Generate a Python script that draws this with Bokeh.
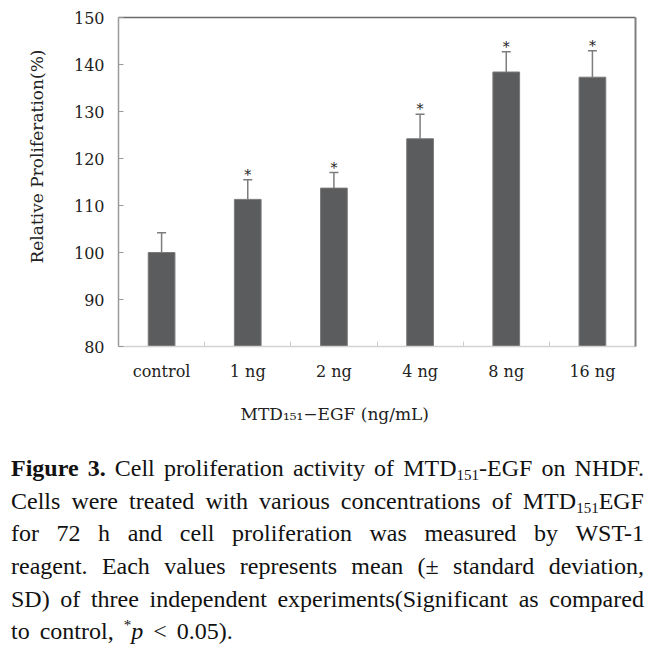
from bokeh.plotting import figure
from bokeh.models import (ColumnDataSource, Range1d, LinearAxis, FixedTicker, Whisker,
                          TeeHead, Title, Div)
from bokeh.layouts import column
from bokeh.core.properties import value
from bokeh.embed import file_html
from bokeh.resources import INLINE

# ---- data ----
categories = ["control", "1 ng", "2 ng", "4 ng", "8 ng", "16 ng"]
means = [100.0, 111.3, 113.7, 124.2, 138.4, 137.3]
sds = [4.2, 4.2, 3.3, 5.2, 4.3, 5.6]
significant = ["", "*", "*", "*", "*", "*"]
y_ticks = [80, 90, 100, 110, 120, 130, 140, 150]
y_label = "Relative Proliferation(%)"
x_label = "MTD\u2081\u2085\u2081\u2212EGF (ng/mL)"
caption_lines = [
    "<b>Figure</b> <b>3.</b> Cell proliferation activity of MTD<sub>151</sub>-EGF on NHDF.",
    "Cells were treated with various concentrations of MTD<sub>151</sub>EGF",
    "for 72 h and cell proliferation was measured by WST-1",
    "reagent. Each values represents mean (\u00b1 standard deviation,",
    "SD) of three independent experiments(Significant as compared",
    "to control, <sup>*</sup><i>p</i> &lt; 0.05).",
]

FONT = "DejaVu Serif"
CAP_FONT = "'Liberation Serif', 'Times New Roman', Times, serif"
idx = list(range(len(categories)))
upper = [m + s for m, s in zip(means, sds)]
src = ColumnDataSource(dict(x=idx, mean=means, upper=upper, lower=means, star=significant))

p = figure(width=651, height=447, output_backend="svg", toolbar_location=None,
           x_range=Range1d(-0.5, len(categories) - 0.5), y_range=Range1d(80, 150),
           x_axis_type=None, y_axis_type=None,
           min_border_left=118, min_border_right=16, min_border_top=17, min_border_bottom=101)
p.outline_line_color = None
p.xgrid.visible = False
p.ygrid.visible = False

# bars
p.vbar(x="x", top="mean", bottom=0, width=0.31, source=src,
       fill_color="#5b5c5e", line_color="#7a7a7a", line_width=1)

# error bars (upper only)
w = Whisker(base="x", upper="upper", lower="lower", dimension="height", source=src,
            line_color="#7d7d7d", line_width=1.5,
            upper_head=TeeHead(size=9, line_color="#7d7d7d", line_width=1.5),
            lower_head=None)
p.add_layout(w)

# significance stars
p.text(x="x", y="upper", text="star", source=src, text_align="center",
       text_baseline="bottom", y_offset=3, text_font=value(FONT),
       text_font_size="14px", text_color="#222222")

# bottom axis: category labels, boundary ticks
xaxis = LinearAxis(ticker=FixedTicker(ticks=idx, minor_ticks=[i + 0.5 for i in idx[:-1]]),
                   major_label_overrides={i: c for i, c in zip(idx, categories)})
xaxis.axis_line_color = "#d2d2d2"
xaxis.axis_line_width = 1.5
xaxis.major_tick_line_color = None
xaxis.minor_tick_in = 5
xaxis.minor_tick_out = 0
xaxis.minor_tick_line_color = "#cccccc"
xaxis.major_label_text_font = FONT
xaxis.major_label_text_font_size = "16px"
xaxis.major_label_text_color = "#222222"
xaxis.major_label_standoff = 9
p.add_layout(xaxis, "below")

# left axis
yaxis = LinearAxis(ticker=FixedTicker(ticks=y_ticks))
yaxis.axis_line_color = "#9a9a9a"
yaxis.axis_line_width = 1.5
yaxis.major_tick_in = 5
yaxis.major_tick_out = 0
yaxis.major_tick_line_color = "#9a9a9a"
yaxis.minor_tick_line_color = None
yaxis.major_label_text_font = FONT
yaxis.major_label_text_font_size = "16px"
yaxis.major_label_text_color = "#222222"
yaxis.major_label_standoff = 14
p.add_layout(yaxis, "left")

# top and right frame lines
top = LinearAxis(ticker=FixedTicker(ticks=[]), major_label_text_font_size="0px",
                 axis_line_color="#6a6a6a", axis_line_width=1.5,
                 major_tick_line_color=None, minor_tick_line_color=None)
p.add_layout(top, "above")
right = LinearAxis(ticker=FixedTicker(ticks=[]), major_label_text_font_size="0px",
                   axis_line_color="#808080", axis_line_width=2,
                   major_tick_line_color=None, minor_tick_line_color=None)
p.add_layout(right, "right")

# axis titles
p.add_layout(Title(text=x_label, align="left", offset=122, standoff=37,
                   text_font=FONT, text_font_size="17px", text_font_style="normal",
                   text_color="#222222"), "below")
p.add_layout(Title(text=y_label, align="left", offset=83, standoff=48,
                   text_font=FONT, text_font_size="17px", text_font_style="normal",
                   text_color="#222222"), "left")

# caption
def line_html(s, justify=True):
    words = "".join(f"<span>{wd}</span>" for wd in s.split(" "))
    if justify:
        return ("<div style='display:flex;justify-content:space-between;height:32.7px;"
                "line-height:32.7px;white-space:nowrap;'>" + words + "</div>")
    return ("<div style='display:flex;column-gap:10px;height:32.7px;"
            "line-height:32.7px;white-space:nowrap;'>" + words + "</div>")

body = "".join(line_html(s, i < len(caption_lines) - 1) for i, s in enumerate(caption_lines))
html = (f"<div style=\"font-family:{CAP_FONT};font-size:24px;color:#111;"
        "width:633px;\">"
        "<style>sub,sup{font-size:15px;line-height:0;} sub{vertical-align:-4px;}"
        " sup{vertical-align:9px;}</style>" + body + "</div>")
cap = Div(text=html, width=651, height=220,
          styles={"font-family": CAP_FONT, "padding-left": "6px", "font-size": "24px"})

layout = column(p, cap, spacing=0)
open("out.html", "w").write(file_html(layout, INLINE))
